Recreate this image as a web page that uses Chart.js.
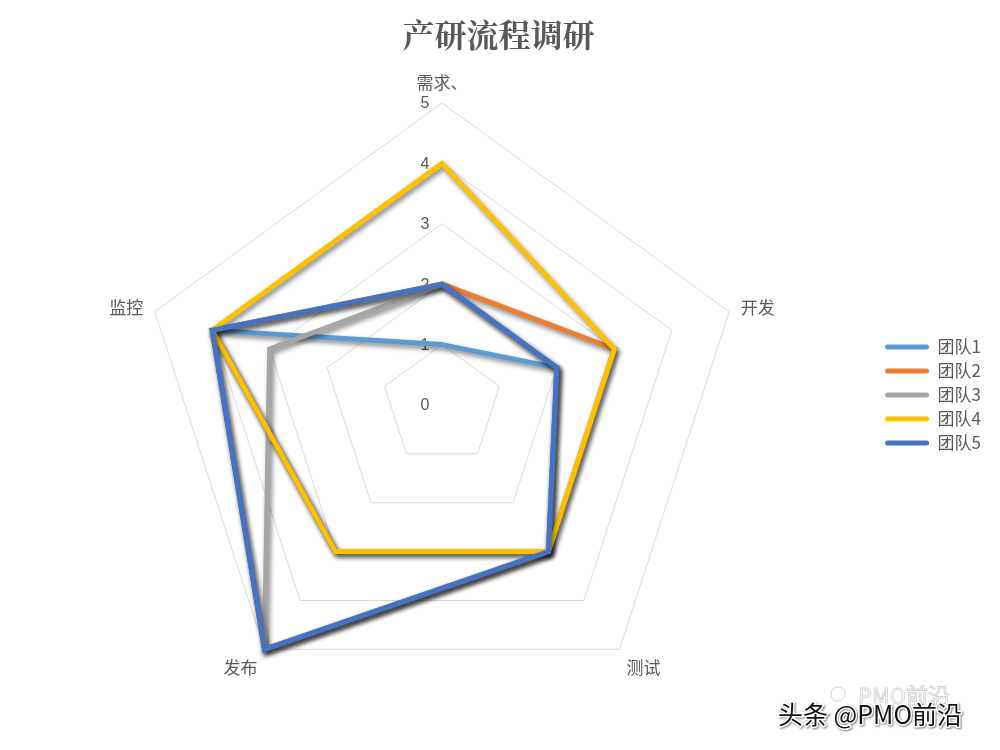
<!DOCTYPE html>
<html>
<head>
<meta charset="utf-8">
<script src="https://cdn.jsdelivr.net/npm/chart.js@4.4.1/dist/chart.umd.min.js"></script>
<style>
  html, body { margin: 0; padding: 0; background: #fff; }
  #wrap { width: 1000px; height: 750px; }
</style>
</head>
<body>
<div id="wrap"><canvas id="radar"></canvas></div>
<script>
const categories = ["需求、", "开发", "测试", "发布", "监控"];
const seriesNames = ["团队1", "团队2", "团队3", "团队4", "团队5"];
const team1 = [1, 2, 3, 5, 4];
const team2 = [2, 3, 3, 3, 4];
const team3 = [2, 2, 3, 5, 3];
const team4 = [4, 3, 3, 3, 4];
const team5 = [2, 2, 3, 5, 4];
const tickLabels = [0, 1, 2, 3, 4, 5];

const colors = ["#5B9BD5", "#ED7D31", "#A5A5A5", "#FFC000", "#4472C4"];
const textColor = "#595959";
const cjk = '"Noto Sans CJK SC", "Liberation Sans", sans-serif';

Chart.defaults.font.family = cjk;
Chart.defaults.color = textColor;

// drop shadow under each series line, like the office chart
const lineShadow = {
  id: "lineShadow",
  beforeDatasetDraw(chart) {
    const ctx = chart.ctx;
    ctx.save();
    ctx.shadowColor = "rgba(0,0,0,0.5)";
    ctx.shadowBlur = 5;
    ctx.shadowOffsetX = 2;
    ctx.shadowOffsetY = 3;
  },
  afterDatasetDraw(chart) {
    chart.ctx.restore();
  }
};

// legend block sits a little above the plot centre
const legendNudge = {
  id: "legendNudge",
  afterLayout(chart) {
    if (chart.legend) {
      chart.legend.bottom -= 20;
      chart.legend.height -= 20;
    }
  }
};

// tick numbers sit just left of the top axis, category names outside the rim
const radarText = {
  id: "radarText",
  beforeDatasetsDraw(chart) {
    const ctx = chart.ctx;
    const r = chart.scales.r;
    ctx.save();
    ctx.fillStyle = textColor;
    ctx.font = '16px "Liberation Sans", sans-serif';
    ctx.textAlign = "center";
    ctx.textBaseline = "middle";
    tickLabels.forEach(v => {
      const p = r.getPointPositionForValue(0, v);
      ctx.fillText(String(v), p.x - 17, p.y + 1);
    });
    ctx.font = "17px " + cjk;
    const align = [["center", "bottom"], ["left", "middle"], ["left", "top"], ["right", "top"], ["right", "middle"]];
    categories.forEach((c, i) => {
      const p = r.getPointPosition(i, r.drawingArea + 12);
      ctx.textAlign = align[i][0];
      ctx.textBaseline = align[i][1];
      ctx.fillText(c, p.x, p.y);
    });
    ctx.restore();
  },
  afterDraw(chart) {
    const ctx = chart.ctx;
    ctx.save();
    // faint watermark behind
    ctx.font = "22px " + cjk;
    ctx.textAlign = "left";
    ctx.textBaseline = "middle";
    ctx.strokeStyle = "rgba(0,0,0,0.18)";
    ctx.lineWidth = 1;
    ctx.strokeText("PMO前沿", 858, 696);
    ctx.beginPath();
    ctx.arc(838, 694, 7, 0, Math.PI * 2);
    ctx.stroke();
    // main watermark
    ctx.font = "25px " + cjk;
    ctx.lineWidth = 3;
    ctx.strokeStyle = "#fff";
    ctx.shadowColor = "rgba(0,0,0,0.5)";
    ctx.shadowBlur = 2;
    ctx.shadowOffsetX = 1;
    ctx.shadowOffsetY = 1;
    ctx.strokeText("头条 @PMO前沿", 778, 714);
    ctx.shadowColor = "transparent";
    ctx.fillStyle = "#111";
    ctx.fillText("头条 @PMO前沿", 778, 714);
    ctx.restore();
  }
};

const allSeries = [team1, team2, team3, team4, team5];

new Chart(document.getElementById("radar"), {
  type: "radar",
  data: {
    labels: categories,
    datasets: allSeries.map((vals, i) => ({
      label: seriesNames[i],
      data: vals,
      borderColor: colors[i],
      backgroundColor: colors[i],
      borderWidth: 5,
      borderJoinStyle: "miter",
      fill: false,
      pointRadius: 0,
      pointHoverRadius: 0,
      order: allSeries.length - 1 - i
    }))
  },
  plugins: [lineShadow, legendNudge, radarText],
  options: {
    responsive: true,
    maintainAspectRatio: false,
    animation: false,
    layout: { padding: { left: 6, right: 9, top: 0, bottom: 43 } },
    plugins: {
      title: {
        display: true,
        text: "产研流程调研",
        color: textColor,
        font: { size: 32, weight: "bold", family: '"Noto Serif CJK SC", ' + cjk },
        padding: { top: 16, bottom: 48.6 }
      },
      legend: {
        position: "right",
        fullSize: false,
        labels: {
          boxWidth: 44,
          boxHeight: 5,
          padding: 7,
          color: textColor,
          font: { size: 17 },
          useBorderRadius: true,
          borderRadius: 2.5,
          sort: (a, b) => a.datasetIndex - b.datasetIndex,
          generateLabels(chart) {
            return Chart.defaults.plugins.legend.labels.generateLabels(chart)
              .map(item => Object.assign(item, { lineWidth: 0 }));
          }
        }
      },
      tooltip: { enabled: false }
    },
    scales: {
      r: {
        min: 0,
        max: 5,
        ticks: { stepSize: 1, display: false },
        grid: { color: "#d9d9d9", lineWidth: 1 },
        angleLines: { display: false },
        pointLabels: { display: false }
      }
    }
  }
});
</script>
</body>
</html>
